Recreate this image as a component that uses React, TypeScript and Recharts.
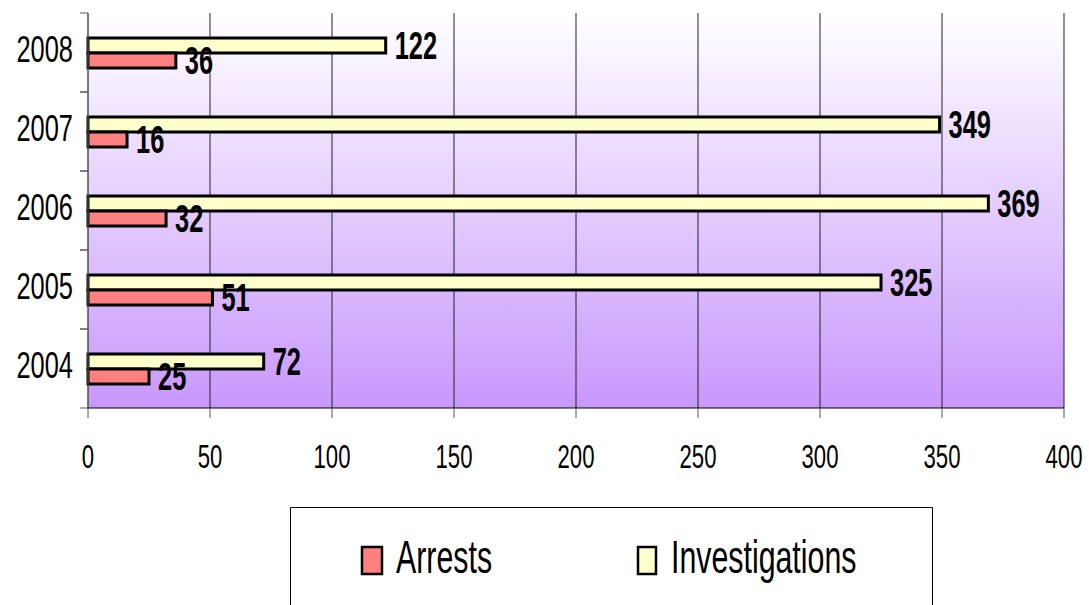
import { BarChart, Bar, XAxis, YAxis, CartesianGrid, LabelList } from 'recharts';

const years = ['2008', '2007', '2006', '2005', '2004'];
const arrests = [36, 16, 32, 51, 25];
const investigations = [122, 349, 369, 325, 72];
const xTicks = [0, 50, 100, 150, 200, 250, 300, 350, 400];

const data = years.map((year, i) => ({
  year,
  arrests: arrests[i],
  investigations: investigations[i],
}));

const W = 1089;
const H = 605;
const TOP = 13;
const BOTTOM = 408;
// no narrow font installed, so squeeze Liberation Sans (Arial metrics) by hand
const FONT = "'Liberation Sans', Arial, sans-serif";
const NARROW = 0.82;
const STRETCH = 1.24;

const XTick = ({ x, y, payload }: any) => (
  <g transform={`translate(${x},${y + 36}) scale(${NARROW},${STRETCH})`}>
    <text x={0} y={0} textAnchor="middle" dominantBaseline="central" fontFamily={FONT} fontSize={27} fill="#000">
      {payload.value}
    </text>
  </g>
);

const YTick = ({ x, y, payload }: any) => {
  const half = (BOTTOM - TOP) / years.length / 2;
  return (
    <g>
      <line x1={80} x2={88} y1={y - half} y2={y - half} stroke="#555" />
      <line x1={80} x2={88} y1={y + half} y2={y + half} stroke="#555" />
      <g transform={`translate(${x - 7},${y - 3}) scale(${NARROW},1.18)`}>
        <text x={0} y={0} textAnchor="end" dominantBaseline="central" fontFamily={FONT} fontSize={31} fill="#000">
          {payload.value}
        </text>
      </g>
    </g>
  );
};

const ValueLabel = ({ x, y, width, height, value }: any) => (
  <g transform={`translate(${x + width + 9},${y + height / 2}) scale(${NARROW},1.26)`}>
    <text x={0} y={0} dominantBaseline="central" fontFamily={FONT} fontWeight="bold" fontSize={31} fill="#000">
      {value}
    </text>
  </g>
);

function ChartLegend() {
  const items = [
    { name: 'Arrests', fill: '#ff8080', box: 72, text: 106, w: 20 },
    { name: 'Investigations', fill: '#ffffcc', box: 348, text: 381, w: 18 },
  ];
  return (
    <svg width={643} height={H - 507} style={{ position: 'absolute', left: 290, top: 507 }}>
      <polyline points={`0.5,${H} 0.5,0.5 642.5,0.5 642.5,${H}`} fill="none" stroke="#000" />
      {items.map((it) => (
        <g key={it.name}>
          <rect x={it.box} y={40} width={it.w} height={27} fill={it.fill} stroke="#000" strokeWidth={2.5} />
          <g transform={`translate(${it.text},50.5) scale(${NARROW},${STRETCH})`}>
            <text x={0} y={0} dominantBaseline="central" fontFamily={FONT} fontSize={37} fill="#000">
              {it.name}
            </text>
          </g>
        </g>
      ))}
    </svg>
  );
}

export default function App() {
  return (
    <div style={{ position: 'absolute', left: 0, top: 0, width: W, height: H, overflow: 'hidden', background: '#fff' }}>
      <BarChart
        width={W}
        height={H}
        data={data}
        layout="vertical"
        barSize={15}
        barGap={0}
        margin={{ top: TOP, right: 25, left: 0, bottom: 0 }}
      >
        <defs>
          <linearGradient id="bg" x1="0" y1="0" x2="0" y2="1">
            <stop offset="0%" stopColor="#ffffff" />
            <stop offset="100%" stopColor="#c898fc" />
          </linearGradient>
        </defs>
        <CartesianGrid horizontal={false} stroke="#222" fill="url(#bg)" fillOpacity={1} />
        <XAxis
          type="number"
          domain={[0, 400]}
          ticks={xTicks}
          interval={0}
          height={H - BOTTOM}
          tickSize={10}
          tickMargin={2}
          axisLine={{ stroke: '#000' }}
          tickLine={{ stroke: '#555' }}
          tick={<XTick />}
        />
        <YAxis
          type="category"
          dataKey="year"
          width={88}
          tickLine={false}
          axisLine={{ stroke: '#666' }}
          tick={<YTick />}
        />
        <Bar dataKey="investigations" fill="#ffffcc" stroke="#000" strokeWidth={3} isAnimationActive={false}>
          <LabelList dataKey="investigations" content={<ValueLabel />} />
        </Bar>
        <Bar dataKey="arrests" fill="#ff8080" stroke="#000" strokeWidth={3} isAnimationActive={false}>
          <LabelList dataKey="arrests" content={<ValueLabel />} />
        </Bar>
      </BarChart>
      <ChartLegend />
    </div>
  );
}
